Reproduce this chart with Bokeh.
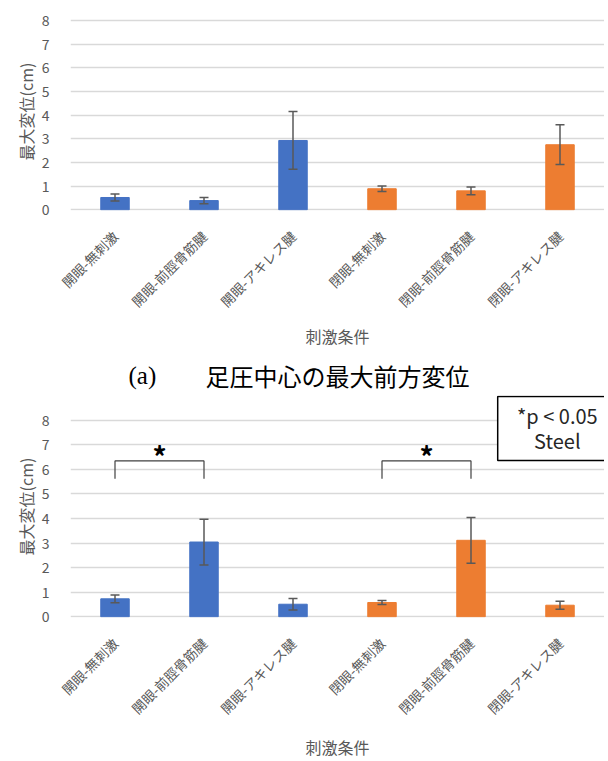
import math
from bokeh.plotting import figure
from bokeh.models import ColumnDataSource, Whisker, TeeHead, FixedTicker, FactorRange, Range1d
from bokeh.layouts import column
from bokeh.embed import file_html
from bokeh.resources import INLINE
from bokeh.core.properties import value

# ---------------- data ----------------
categories = ["開眼-無刺激", "開眼-前脛骨筋腱", "開眼-アキレス腱",
              "閉眼-無刺激", "閉眼-前脛骨筋腱", "閉眼-アキレス腱"]
bar_colors = ["#4472C4", "#4472C4", "#4472C4", "#ED7D31", "#ED7D31", "#ED7D31"]

top_means = [0.52, 0.39, 2.93, 0.89, 0.80, 2.75]
top_errs = [0.15, 0.13, 1.22, 0.12, 0.16, 0.84]

bottom_means = [0.73, 3.04, 0.51, 0.58, 3.11, 0.47]
bottom_errs = [0.16, 0.93, 0.23, 0.08, 0.93, 0.16]

y_ticks = [0, 1, 2, 3, 4, 5, 6, 7, 8]
y_label = "最大変位(cm)"
x_label = "刺激条件"
caption_tag = "(a)"
caption_text = "足圧中心の最大前方変位"

sig_pairs = [("開眼-無刺激", "開眼-前脛骨筋腱"), ("閉眼-無刺激", "閉眼-前脛骨筋腱")]
sig_bracket_low = 5.61
sig_bracket_high = 6.34
sig_star_y = 6.55
note_lines = ["*p < 0.05", "Steel"]

FONT = "Noto Sans CJK JP"
GRAY = "#595959"
W = 604
LEFT = 70


def make_chart(means, errs, height, y_end, border_top, border_bottom, title_standoff):
    src = ColumnDataSource(dict(
        cat=categories, val=means, color=bar_colors,
        upper=[m + e for m, e in zip(means, errs)],
        lower=[m - e for m, e in zip(means, errs)],
    ))
    p = figure(x_range=FactorRange(*categories), y_range=Range1d(-0.03, y_end),
               width=W, height=height, output_backend="svg", toolbar_location=None,
               min_border_left=LEFT, min_border_right=0,
               min_border_top=border_top, min_border_bottom=border_bottom)
    p.vbar(x="cat", top="val", bottom=0, width=0.32, color="color", source=src)
    w = Whisker(source=src, base="cat", upper="upper", lower="lower",
                line_color=GRAY, line_width=1.5, level="annotation",
                upper_head=TeeHead(size=9, line_color=GRAY, line_width=1.5),
                lower_head=TeeHead(size=9, line_color=GRAY, line_width=1.5))
    p.add_layout(w)

    p.outline_line_color = None
    p.xgrid.grid_line_color = None
    p.ygrid.grid_line_color = "#d9d9d9"
    p.ygrid.grid_line_width = 1.3

    p.yaxis.ticker = FixedTicker(ticks=y_ticks)
    p.yaxis.axis_line_color = None
    p.yaxis.major_tick_line_color = None
    p.yaxis.minor_tick_line_color = None
    p.yaxis.major_label_standoff = 15
    p.yaxis.major_label_text_font = FONT
    p.yaxis.major_label_text_font_size = "14px"
    p.yaxis.major_label_text_color = GRAY
    p.yaxis.axis_label = y_label
    p.yaxis.axis_label_text_font = FONT
    p.yaxis.axis_label_text_font_size = "16px"
    p.yaxis.axis_label_text_font_style = "normal"
    p.yaxis.axis_label_text_color = GRAY
    p.yaxis.axis_label_standoff = 1

    p.xaxis.axis_line_color = None
    p.xaxis.major_tick_line_color = None
    p.xaxis.minor_tick_line_color = None
    p.xaxis.major_label_orientation = math.pi / 4
    p.xaxis.major_label_standoff = 17
    p.xaxis.major_label_text_font = FONT
    p.xaxis.major_label_text_font_size = "13.5px"
    p.xaxis.major_label_text_color = GRAY
    p.xaxis.axis_label = x_label
    p.xaxis.axis_label_text_font = FONT
    p.xaxis.axis_label_text_font_size = "16px"
    p.xaxis.axis_label_text_font_style = "normal"
    p.xaxis.axis_label_text_color = GRAY
    p.xaxis.axis_label_standoff = title_standoff
    return p


# ---------------- top chart ----------------
p1 = make_chart(top_means, top_errs, height=355, y_end=8.34, border_top=12,
                border_bottom=145, title_standoff=3)

# ---------------- caption (frame aligned with the charts: x = page pixels) ----------------
cap = figure(width=W, height=40, x_range=Range1d(LEFT, W), y_range=Range1d(0, 40),
             x_axis_type=None, y_axis_type=None,
             output_backend="svg", toolbar_location=None,
             min_border_left=LEFT, min_border_right=0, min_border_top=0, min_border_bottom=0)
cap.grid.visible = False
cap.outline_line_color = None
cap.text(x=[128], y=[20], text=[caption_tag], text_font=value("Liberation Serif"),
         text_font_size="25px", text_color="black", text_baseline="middle")
cap.text(x=[205], y=[20], text=[caption_text], text_font=value(FONT),
         text_font_size="24px", text_color="black", text_baseline="middle")

# ---------------- bottom chart ----------------
p2 = make_chart(bottom_means, bottom_errs, height=366, y_end=9.0, border_top=0,
                border_bottom=143, title_standoff=7)
for a, b in sig_pairs:
    p2.line(x=[a, a, b, b], y=[sig_bracket_low, sig_bracket_high, sig_bracket_high, sig_bracket_low],
            line_color="#404040", line_width=1.2)
    mid = (categories.index(a) + categories.index(b)) / 2 + 0.5
    p2.text(x=[mid], y=[sig_star_y], text=["*"], text_font=value(FONT), text_font_size="28px",
            text_color="black", text_align="center", text_baseline="middle", text_font_style="bold")

# note box (extends past the right edge, clipped like the reference)
p2.quad(left=[4.80], right=[6.6], top=[8.96], bottom=[6.36], fill_color="white",
        line_color="black", line_width=1.5)
p2.text(x=[5.47, 5.47], y=[8.19, 7.17], text=note_lines, text_font=value(FONT),
        text_font_size="20px", text_color="#262626", text_align="center", text_baseline="middle")

layout = column(p1, cap, p2, spacing=0)
open("out.html", "w").write(file_html(layout, INLINE))
